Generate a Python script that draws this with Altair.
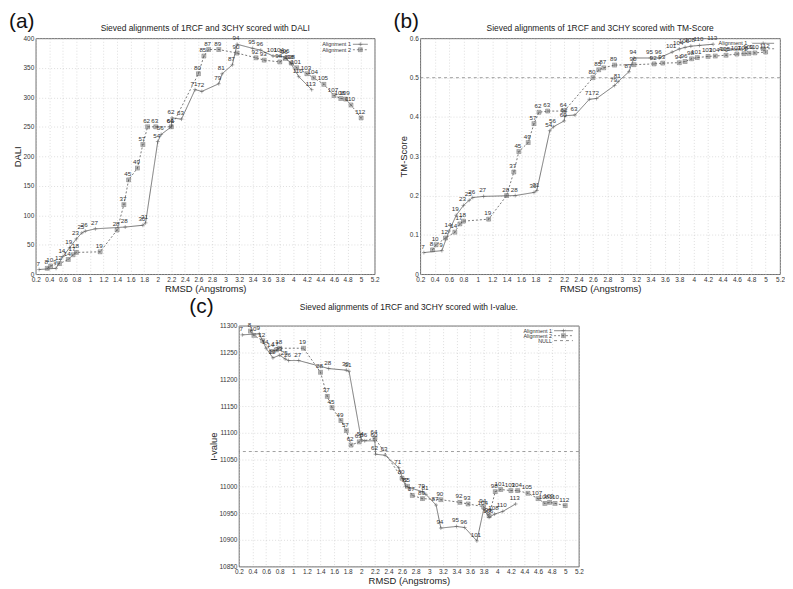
import altair as alt
import pandas as pd

FONT = "Liberation Sans"
LC = "#555555"

# ---- data ----
a1_labels = [7, 9, 14, 19, 23, 25, 26, 27, 28, 30, 31, 54, 56, 60, 62, 63, 71, 72, 79, 81, 87, 94, 95, 96, 101, 104, 106, 108, 110, 113]
a1_rmsd = [0.25, 0.5, 0.6, 0.7, 0.8, 0.88, 0.93, 1.08, 1.52, 1.78, 1.82, 2.0, 2.05, 2.2, 2.21, 2.35, 2.55, 2.65, 2.9, 2.95, 3.1, 3.17, 3.4, 3.52, 3.7, 3.8, 3.88, 3.96, 4.08, 4.27]
a1_dali = [8, 10, 30, 45, 60, 70, 73, 77, 80, 83, 87, 225, 237, 250, 265, 263, 313, 310, 323, 340, 355, 390, 383, 380, 370, 370, 368, 358, 335, 313]
a1_tm = [0.055, 0.06, 0.11, 0.15, 0.175, 0.188, 0.195, 0.198, 0.2, 0.208, 0.213, 0.365, 0.375, 0.39, 0.403, 0.405, 0.445, 0.447, 0.48, 0.49, 0.515, 0.55, 0.55, 0.55, 0.565, 0.573, 0.577, 0.58, 0.582, 0.585]
a1_ival = [11283, 11285, 11258, 11240, 11245, 11238, 11235, 11235, 11220, 11217, 11215, 11087, 11085, 11085, 11060, 11058, 11035, 11000, 10990, 10985, 10965, 10922, 10925, 10923, 10898, 10957, 10942, 10948, 10953, 10967]

a2_labels = [8, 10, 12, 14, 17, 18, 19, 28, 37, 45, 49, 57, 62, 63, 64, 80, 85, 87, 89, 90, 92, 93, 94, 96, 98, 101, 103, 104, 105, 107, 108, 109, 110, 112]
a2_rmsd = [0.37, 0.42, 0.55, 0.68, 0.75, 0.8, 1.15, 1.4, 1.5, 1.57, 1.7, 1.78, 1.85, 1.97, 2.2, 2.6, 2.68, 2.75, 2.9, 3.17, 3.45, 3.57, 3.8, 3.88, 3.97, 4.05, 4.2, 4.3, 4.45, 4.6, 4.7, 4.77, 4.85, 5.0]
a2_dali = [10, 14, 18, 25, 33, 37, 38, 75, 118, 160, 180, 220, 250, 250, 250, 340, 370, 381, 381, 375, 367, 363, 360, 366, 358, 350, 340, 333, 322, 303, 298, 297, 287, 265]
a2_tm = [0.062, 0.075, 0.092, 0.107, 0.128, 0.135, 0.14, 0.2, 0.26, 0.312, 0.335, 0.383, 0.412, 0.415, 0.415, 0.5, 0.52, 0.525, 0.532, 0.533, 0.535, 0.537, 0.538, 0.541, 0.548, 0.551, 0.554, 0.555, 0.557, 0.56, 0.561, 0.562, 0.563, 0.565]
a2_ival = [11290, 11282, 11272, 11252, 11255, 11258, 11258, 11213, 11168, 11147, 11123, 11104, 11077, 11083, 11090, 11015, 11000, 10983, 10977, 10975, 10970, 10967, 10962, 10945, 10990, 10994, 10992, 10992, 10987, 10977, 10968, 10970, 10968, 10964]

series_names = ["Alignment 1", "Alignment 2"]
x_ticks = [round(0.2 + 0.2 * i, 1) for i in range(26)]
dali_ticks = [0, 50, 100, 150, 200, 250, 300, 350, 400]
tm_ticks = [0, 0.1, 0.2, 0.3, 0.4, 0.5, 0.6]
ival_ticks = [10850, 10900, 10950, 11000, 11050, 11100, 11150, 11200, 11250, 11300]
tm_ref = 0.5
ival_null = 11065

PLUS = "M-1,0L1,0M0,-1L0,1"
BOXSTAR = "M-1,-1L1,-1L1,1L-1,1ZM-1,-1L1,1M-1,1L1,-1M0,-1L0,1M-1,0L1,0"


def panel(y1, y2, ydom, yticks, yfmt, ytitle, title, tag, w, h, leg, ref=None, ref_in_legend=False,
          tag_pos=(-27, -27), title_dy=-5):
    d1 = pd.DataFrame({"rmsd": a1_rmsd, "score": y1, "label": [str(v) for v in a1_labels]})
    d1["series"] = "Alignment 1"
    d1["idx"] = range(len(d1))
    d2 = pd.DataFrame({"rmsd": a2_rmsd, "score": y2, "label": [str(v) for v in a2_labels]})
    d2["series"] = "Alignment 2"
    d2["idx"] = range(len(d2))
    df = pd.concat([d1, d2], ignore_index=True)

    x = alt.X("rmsd:Q", scale=alt.Scale(domain=[0.2, 5.2], nice=False, zero=False),
              axis=alt.Axis(values=x_ticks, format="~g", title="RMSD (Angstroms)"))
    y = alt.Y("score:Q", scale=alt.Scale(domain=ydom, nice=False, zero=False),
              axis=alt.Axis(values=yticks, format=yfmt, title=ytitle))
    base = alt.Chart(df)
    lines = base.mark_line(color=LC, strokeWidth=0.8).encode(
        x=x, y=y, detail="series:N", order="idx:Q",
        strokeDash=alt.StrokeDash("series:N", scale=alt.Scale(domain=series_names, range=[[1, 0], [2, 2]]), legend=None))
    pts = base.mark_point(filled=False, color=LC, strokeWidth=0.7, size=15).encode(
        x=x, y=y,
        shape=alt.Shape("series:N", scale=alt.Scale(domain=series_names, range=[PLUS, BOXSTAR]), legend=None))
    labs = base.mark_text(fontSize=6.3, dy=-6, dx=-1, color="#333", font=FONT).encode(x=x, y=y, text="label:N")
    layers = [lines, pts, labs]

    if ref is not None:
        rdf = pd.DataFrame({"score": [ref]})
        layers.append(alt.Chart(rdf).mark_rule(color="#777", strokeWidth=0.7, strokeDash=[3, 3]).encode(y=y))

    # legend
    tx, x0, x1, ly0, ldy = leg
    names = series_names + (["NULL"] if ref_in_legend else [])
    dashes = [[1, 0], [2, 2], [3, 3]]
    for i, nm in enumerate(names):
        yy = ly0 + i * ldy
        ldf = pd.DataFrame({"t": [nm]})
        layers.append(alt.Chart(ldf).mark_text(align="right", baseline="middle", fontSize=5.5, font=FONT, color="#333")
                      .encode(x=alt.value(w + tx), y=alt.value(yy), text="t:N"))
        layers.append(alt.Chart(ldf).mark_rule(color=LC, strokeWidth=0.7, strokeDash=dashes[i])
                      .encode(x=alt.value(w + x0), x2=alt.value(w + x1), y=alt.value(yy)))
        if i < 2:
            layers.append(alt.Chart(ldf).mark_point(filled=False, color=LC, strokeWidth=0.7, size=15,
                                                    shape=[PLUS, BOXSTAR][i])
                          .encode(x=alt.value(w + (x0 + x1) / 2), y=alt.value(yy)))

    tdf = pd.DataFrame({"t": [title]})
    layers.append(alt.Chart(tdf).mark_text(align="center", baseline="bottom", fontSize=8.5, font=FONT, color="#222")
                  .encode(x=alt.value(w / 2), y=alt.value(title_dy), text="t:N"))
    gdf = pd.DataFrame({"t": [tag]})
    layers.append(alt.Chart(gdf).mark_text(align="left", baseline="top", fontSize=21, font=FONT, color="#111")
                  .encode(x=alt.value(tag_pos[0]), y=alt.value(tag_pos[1]), text="t:N"))

    return alt.layer(*layers).properties(width=w, height=h)


pa = panel(a1_dali, a2_dali, [0, 400], dali_ticks, "d", "DALI",
           "Sieved alignments of 1RCF and 3CHY scored with DALI", "(a)", 342, 238,
           (-24, -22, -7, 6, 5.5))
pb = panel(a1_tm, a2_tm, [0, 0.6], tm_ticks, "~g", "TM-Score",
           "Sieved alignments of 1RCF and 3CHY scored with TM-Score", "(b)", 363, 238,
           (-33, -28, -6, 5, 5.5), ref=tm_ref)
pc = panel(a1_ival, a2_ival, [10850, 11300], ival_ticks, "d", "I-value",
           "Sieved alignments of 1RCF and 3CHY scored with I-value.", "(c)", 343, 243,
           (-27, -25, -6, 5, 5), ref=ival_null, ref_in_legend=True, tag_pos=(-50, -30), title_dy=-14)

spacer = (alt.Chart(pd.DataFrame({"t": [""]})).mark_text().encode(text="t:N")
          .properties(width=150, height=243, view=alt.ViewBackground(strokeOpacity=0)))

top = alt.hconcat(pa, pb, spacing=46, bounds="flush")
bottom = alt.hconcat(spacer, pc, spacing=55, bounds="flush")

chart = (alt.vconcat(top, bottom, spacing=1, bounds="full")
         .properties(padding=0)
         .configure_view(stroke="#444", strokeWidth=0.8)
         .configure_axis(labelFontSize=6.5, titleFontSize=9.5, labelFont=FONT, titleFont=FONT,
                         titleFontWeight="normal", labelColor="#333", titleColor="#222",
                         grid=True, gridColor="#c8c8c8", gridDash=[1, 2], gridWidth=0.6,
                         domain=False, ticks=False, labelPadding=2, titlePadding=1,
                         labelOverlap=False, labelFlush=False))

chart.save("out.html", embed_options={"renderer": "svg", "actions": False})
